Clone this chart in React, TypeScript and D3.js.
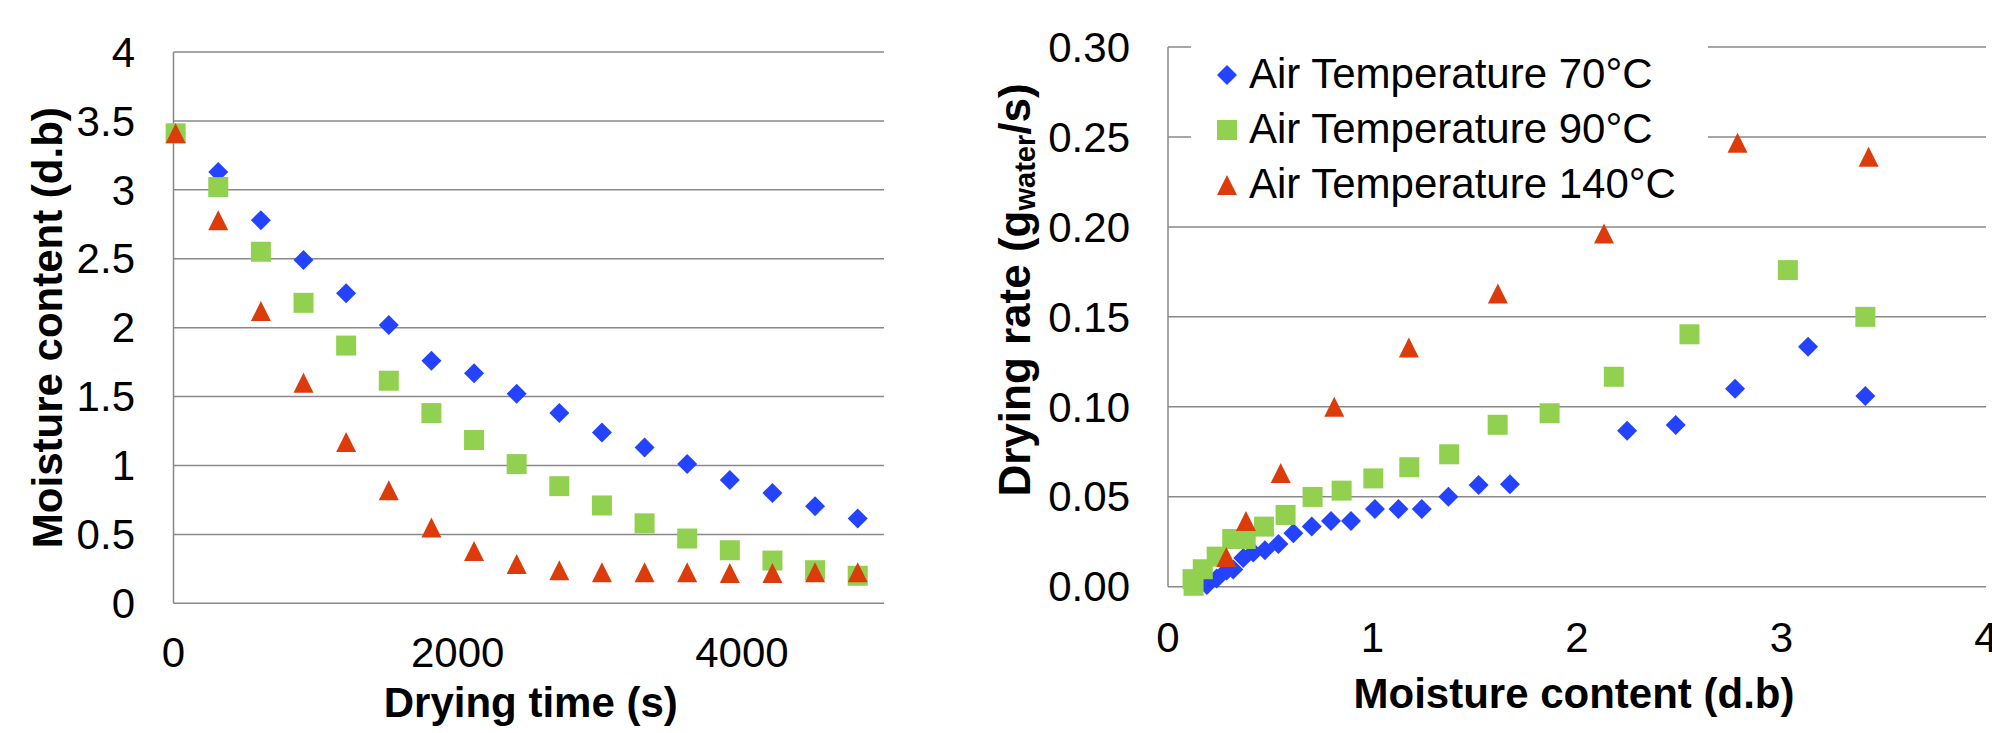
import React from "react";
import * as d3 from "d3";

// drying curves (left chart)
const dryingTime = [15, 315, 615, 915, 1215, 1515, 1815, 2115, 2415, 2715, 3015, 3315, 3615, 3915, 4215, 4515, 4815];
const mc70 = [3.41, 3.13, 2.78, 2.49, 2.25, 2.02, 1.76, 1.67, 1.52, 1.38, 1.24, 1.13, 1.01, 0.895, 0.8, 0.705, 0.615];
const mc90 = [3.41, 3.02, 2.55, 2.18, 1.87, 1.615, 1.38, 1.185, 1.01, 0.85, 0.71, 0.58, 0.47, 0.385, 0.31, 0.24, 0.2];
const mc140 = [3.41, 2.78, 2.12, 1.6, 1.17, 0.82, 0.55, 0.38, 0.285, 0.24, 0.225, 0.225, 0.225, 0.22, 0.22, 0.225, 0.225];

// drying rate curves (right chart)
const rateMc70 = [3.41, 3.13, 2.773, 2.483, 2.245, 1.672, 1.519, 1.371, 1.241, 1.127, 1.012, 0.895, 0.797, 0.703, 0.613, 0.54, 0.474, 0.417, 0.368, 0.319, 0.287, 0.238, 0.19];
const rate70 = [0.106, 0.1334, 0.11, 0.0899, 0.0867, 0.0569, 0.0565, 0.05, 0.0432, 0.0432, 0.0432, 0.0365, 0.0365, 0.0334, 0.0297, 0.0237, 0.0203, 0.019, 0.016, 0.0095, 0.009, 0.0046, 0.001];
const rateMc90 = [3.41, 3.031, 2.55, 2.18, 1.866, 1.612, 1.375, 1.18, 1.004, 0.849, 0.707, 0.575, 0.469, 0.38, 0.314, 0.238, 0.17, 0.12, 0.125];
const rate90 = [0.15, 0.176, 0.1403, 0.1167, 0.0964, 0.09, 0.0736, 0.0664, 0.0602, 0.0534, 0.0499, 0.0399, 0.0334, 0.0265, 0.0265, 0.0167, 0.0097, 0.0042, 0.0005];
const rateMc140 = [3.426, 2.785, 2.132, 1.613, 1.178, 0.813, 0.551, 0.381, 0.285];
const rate140 = [0.239, 0.2468, 0.1964, 0.163, 0.133, 0.1, 0.0632, 0.0365, 0.0165];

const seriesNames = ["Air Temperature 70°C", "Air Temperature 90°C", "Air Temperature 140°C"];
const colors = ["#2443ff", "#92d050", "#dc3c0b"];
const shapes = ["diamond", "square", "triangle"];

const timeTicks = [0, 2000, 4000];
const mcTicks = [0, 0.5, 1, 1.5, 2, 2.5, 3, 3.5, 4];
const mcAxisTicks = [0, 1, 2, 3, 4];
const rateTicks = [0, 0.05, 0.1, 0.15, 0.2, 0.25, 0.3];

const FONT = "'Liberation Sans', Arial, sans-serif";
const GRID = "#898989";

function marker(shape: string, x: number, y: number, r = 10) {
  if (shape === "diamond") return `M${x},${y - r}L${x + r},${y}L${x},${y + r}L${x - r},${y}Z`;
  if (shape === "square") return `M${x - r},${y - r}h${2 * r}v${2 * r}h${-2 * r}Z`;
  return `M${x},${y - r}L${x + r},${y + r}L${x - r},${y + r}Z`;
}

export default function App() {
  // left chart scales
  const x1 = d3.scaleLinear().domain([0, 5000]).range([173.5, 884]);
  const y1 = d3.scaleLinear().domain([0, 4]).range([603.3, 52]);
  // right chart scales
  const x2 = d3.scaleLinear().domain([0, 4]).range([1168, 1986]);
  const y2 = d3.scaleLinear().domain([0, 0.3]).range([586.7, 47]);

  const leftSeries = [mc70, mc90, mc140];
  const rightSeries = [
    [rateMc70, rate70],
    [rateMc90, rate90],
    [rateMc140, rate140],
  ];

  const fmt1 = (v: number) => (v === 0 ? "0" : d3.format("")(v));

  return (
    <svg width={1992} height={733} style={{ position: "absolute", left: 0, top: 0, background: "#fff" }} fontFamily={FONT}>
      <rect width={1992} height={733} fill="#fff" />

      {/* left chart */}
      <g>
        {mcTicks.map((t) => (
          <line key={t} x1={x1(0)} x2={x1(5000)} y1={y1(t)} y2={y1(t)} stroke={GRID} strokeWidth={1.5} />
        ))}
        <line x1={x1(0)} x2={x1(0)} y1={y1(0)} y2={y1(4)} stroke={GRID} strokeWidth={1.5} />
        {mcTicks.map((t) => (
          <text key={t} x={135} y={y1(t)} dy="0.35em" textAnchor="end" fontSize={42}>
            {fmt1(t)}
          </text>
        ))}
        {timeTicks.map((t) => (
          <text key={t} x={x1(t)} y={666.7} textAnchor="middle" fontSize={42}>
            {t}
          </text>
        ))}
        <text x={x1(2500) + 2} y={716.7} textAnchor="middle" fontSize={42} fontWeight="bold">
          Drying time (s)
        </text>
        <text transform={`translate(61.5,${y1(2)}) rotate(-90)`} textAnchor="middle" fontSize={42} fontWeight="bold">
          Moisture content (d.b)
        </text>
        {leftSeries.map((s, k) => (
          <g key={k} fill={colors[k]}>
            {s.map((v, i) => (
              <path key={i} d={marker(shapes[k], x1(dryingTime[i]), y1(v))} />
            ))}
          </g>
        ))}
      </g>

      {/* right chart */}
      <g>
        {rateTicks.map((t) => (
          <line key={t} x1={x2(0)} x2={x2(4)} y1={y2(t)} y2={y2(t)} stroke={GRID} strokeWidth={1.5} />
        ))}
        <line x1={x2(0)} x2={x2(0)} y1={y2(0)} y2={y2(0.3)} stroke={GRID} strokeWidth={1.5} />
        {rateTicks.map((t) => (
          <text key={t} x={1130} y={y2(t)} dy="0.35em" textAnchor="end" fontSize={42}>
            {d3.format(".2f")(t)}
          </text>
        ))}
        {mcAxisTicks.map((t) => (
          <text key={t} x={x2(t)} y={651.7} textAnchor="middle" fontSize={42}>
            {t}
          </text>
        ))}
        <text x={1574} y={708.3} textAnchor="middle" fontSize={42} fontWeight="bold">
          Moisture content (d.b)
        </text>
        <text transform="translate(1030,290) rotate(-90)" textAnchor="middle" fontSize={44} fontWeight="bold">
          Drying rate (g
          <tspan fontSize={29} dy={5}>water</tspan>
          <tspan dy={-5}>/s)</tspan>
        </text>
        {rightSeries.map(([xs, ys], k) => (
          <g key={k} fill={colors[k]}>
            {xs.map((u, i) => (
              <path key={i} d={marker(shapes[k], x2(u), y2(ys[i]))} />
            ))}
          </g>
        ))}

        {/* legend */}
        <rect x={1191} y={36} width={517} height={176} fill="#fff" />
        {seriesNames.map((name, k) => (
          <g key={k} transform={`translate(0,${75 + k * 55})`}>
            <path d={marker(shapes[k], 1227, 0, 10)} fill={colors[k]} />
            <text x={1249} y={-2} dy="0.35em" fontSize={42}>
              {name}
            </text>
          </g>
        ))}
      </g>
    </svg>
  );
}
